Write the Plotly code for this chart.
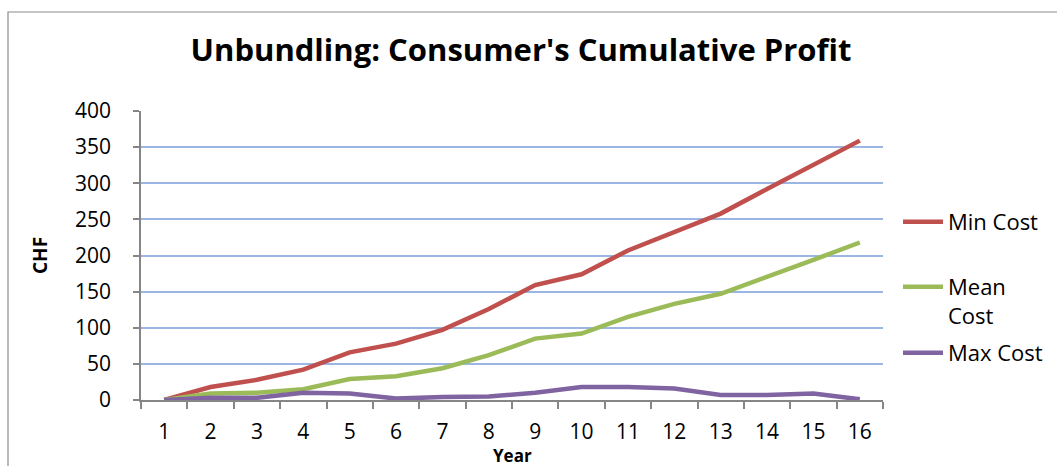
import plotly.graph_objects as go

years = [str(i) for i in range(1, 17)]
min_cost = [0, 18, 28, 42, 66, 78, 97, 126, 159, 174, 207, 233, 258, 292, 325, 359]
mean_cost = [0, 9, 10, 15, 29, 33, 44, 62, 85, 92, 115, 133, 147, 170, 194, 218]
max_cost = [0, 3, 3, 10, 9, 2, 4, 5, 10, 18, 18, 16, 7, 7, 9, 1]
series_names = ["Min Cost", "Mean Cost", "Max Cost"]
legend_labels = ["Min Cost", "Mean<br>Cost", "Max Cost"]
colors = ["#C0504D", "#9BBB59", "#8064A2"]
y_ticks = [0, 50, 100, 150, 200, 250, 300, 350, 400]

W, H = 1057, 466
L, R, T, B = 141, 174, 111, 66
pw, ph = W - L - R, H - T - B

FONT = "Open Sans, Noto Sans, sans-serif"


def px_x(p):
    return (p - L) / pw


def px_y(p):
    return (H - B - p) / ph


legend_ids = ["legend", "legend2", "legend3"]
legend_tops = [201, 266, 332]

fig = go.Figure()
for vals, lab, col, lid in zip([min_cost, mean_cost, max_cost], legend_labels, colors, legend_ids):
    fig.add_trace(go.Scatter(
        x=years, y=vals, name=lab, mode="lines", legend=lid,
        line=dict(color=col, width=4.5),
    ))

fig.add_shape(type="rect", xref="paper", yref="paper",
              x0=px_x(8), x1=px_x(1075), y0=px_y(490), y1=px_y(12),
              line=dict(color="#8C8C8C", width=1.2), fillcolor="rgba(0,0,0,0)", layer="below")

legend_common = dict(xanchor="left", yanchor="top", font=dict(family=FONT, size=22),
                     bgcolor="rgba(0,0,0,0)", itemwidth=40, valign="top")

layout_legends = {}
for lid, top in zip(legend_ids, legend_tops):
    layout_legends[lid] = dict(x=px_x(898), y=px_y(top), **legend_common)

fig.update_layout(
    width=W, height=H,
    margin=dict(l=L, r=R, t=T, b=B, autoexpand=False),
    paper_bgcolor="white", plot_bgcolor="white",
    font=dict(family=FONT, size=21, color="black"),
    title=dict(text="<b>Unbundling: Consumer's Cumulative Profit</b>",
               x=521 / W, xanchor="center",
               y=1 - 50 / H, yanchor="middle",
               font=dict(family=FONT, size=31, color="black")),
    showlegend=True,
    xaxis=dict(type="category", tickmode="array", tickvals=years, ticktext=years,
               tickson="boundaries", ticks="outside", ticklen=7, tickcolor="#868686",
               tickwidth=1.5,
               showline=True, linecolor="#868686", linewidth=1.5, showgrid=False,
               tickfont=dict(family=FONT, size=21), ticklabelstandoff=12,
               range=[-0.5, 15.5]),
    yaxis=dict(range=[0, 400], tickvals=y_ticks, ticks="outside", ticklen=6,
               tickcolor="#868686", tickwidth=1.5,
               showline=True, linecolor="#868686", linewidth=1.5,
               showgrid=True, gridcolor="#9CB6E4", gridwidth=1.5,
               tickfont=dict(family=FONT, size=21), ticklabelstandoff=18,
               zeroline=False),
    annotations=[
        dict(text="<b>Year</b>", xref="paper", yref="paper", x=px_x(512), y=px_y(455),
             xanchor="center", yanchor="middle", showarrow=False,
             font=dict(family=FONT, size=17)),
        dict(text="<b>CHF</b>", xref="paper", yref="paper", x=px_x(40), y=px_y(255),
             xanchor="center", yanchor="middle", showarrow=False, textangle=-90,
             font=dict(family=FONT, size=19)),
    ],
    **layout_legends,
)

fig.write_html("out.html")
